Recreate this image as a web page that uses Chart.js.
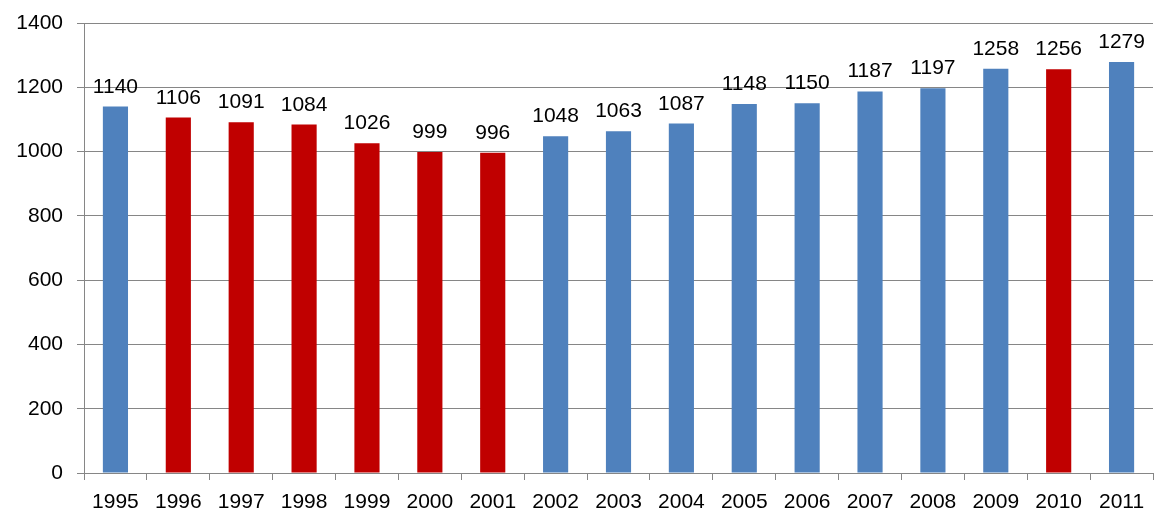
<!DOCTYPE html>
<html><head><meta charset="utf-8">
<script src="https://cdn.jsdelivr.net/npm/chart.js@4/dist/chart.umd.min.js"></script>
<style>html,body{margin:0;padding:0;background:#fff}#wrap{width:1176px;height:526px}</style>
</head><body><div id="wrap"><canvas id="c" width="1176" height="526"></canvas></div>
<script>
const years = ['1995','1996','1997','1998','1999','2000','2001','2002','2003','2004','2005','2006','2007','2008','2009','2010','2011'];
const values = [1140,1106,1091,1084,1026,999,996,1048,1063,1087,1148,1150,1187,1197,1258,1256,1279];
const redYears = ['1996','1997','1998','1999','2000','2001','2010'];
const yTicks = [0,200,400,600,800,1000,1200,1400];

const BLUE = '#4F81BD', RED = '#C00000', GRID = '#868686';
const FONT = {family: 'Liberation Sans, Arial, sans-serif', size: 21};

const labelPlugin = {
  id: 'barLabels',
  afterDatasetsDraw(chart) {
    const ctx = chart.ctx;
    const meta = chart.getDatasetMeta(0);
    ctx.save();
    ctx.font = '21px Liberation Sans, Arial, sans-serif';
    ctx.fillStyle = '#000';
    ctx.textAlign = 'center';
    ctx.textBaseline = 'alphabetic';
    meta.data.forEach((bar, i) => {
      ctx.fillText(String(values[i]), bar.x, bar.y - 14);
    });
    ctx.restore();
  }
};

new Chart(document.getElementById('c'), {
  type: 'bar',
  data: {
    labels: years,
    datasets: [{
      data: values,
      backgroundColor: years.map(y => redYears.includes(y) ? RED : BLUE),
      barPercentage: 0.4,
      categoryPercentage: 1.0,
      borderWidth: 0
    }]
  },
  options: {
    responsive: false,
    animation: false,
    devicePixelRatio: 1,
    layout: {padding: {top: 23, right: 23, left: 0, bottom: 0}},
    plugins: {legend: {display: false}, tooltip: {enabled: false}},
    scales: {
      x: {
        grid: {display: true, drawOnChartArea: false, offset: true, color: GRID, tickLength: 7, lineWidth: 1},
        border: {display: true, color: GRID, width: 1},
        ticks: {color: '#000', font: FONT, padding: 10, maxRotation: 0, autoSkip: false},
        afterFit(s) { s.height = 53; s.paddingLeft = 0; s.paddingRight = 0; }
      },
      y: {
        min: 0, max: 1400,
        afterBuildTicks(s) { s.ticks = yTicks.map(v => ({value: v})); },
        grid: {color: GRID, tickLength: 7, lineWidth: 1},
        border: {display: true, color: GRID, width: 1},
        ticks: {color: '#000', font: FONT, padding: 14, callback: v => String(v)},
        afterFit(s) { s.width = 84; s.paddingTop = 0; s.paddingBottom = 0; }
      }
    }
  },
  plugins: [labelPlugin]
});
</script></body></html>
